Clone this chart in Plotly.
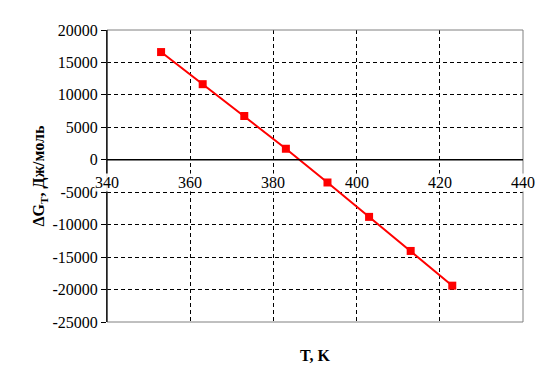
import plotly.graph_objects as go

T_K = [353, 363, 373, 383, 393, 403, 413, 423]
dG = [16600, 11650, 6750, 1700, -3500, -8800, -14050, -19400]

x_ticks = [340, 360, 380, 400, 420, 440]
y_ticks = [20000, 15000, 10000, 5000, 0, -5000, -10000, -15000, -20000, -25000]

font = "Times New Roman, Liberation Serif, serif"

fig = go.Figure()
fig.add_trace(go.Scatter(
    x=T_K, y=dG, mode="lines+markers",
    line=dict(color="#ff0000", width=2),
    marker=dict(color="#ff0000", size=8, symbol="square"),
    showlegend=False,
))

ymin, ymax = -25000, 20000
fig.update_layout(
    width=553, height=381,
    margin=dict(l=107, r=30, t=30, b=59),
    paper_bgcolor="white", plot_bgcolor="white",
    font=dict(family=font, size=16, color="black"),
    xaxis=dict(
        range=[340, 440], tickvals=x_ticks, showticklabels=False,
        showgrid=True, gridcolor="black", griddash="4px,3px", gridwidth=1,
        showline=False, zeroline=False, title=None,
    ),
    yaxis=dict(
        range=[ymin, ymax], tickvals=y_ticks, ticktext=[str(v) for v in y_ticks],
        showgrid=True, gridcolor="black", griddash="4px,3px", gridwidth=1,
        showline=True, linecolor="black", linewidth=1,
        ticks="outside", ticklen=5, tickcolor="black",
        zeroline=False,
        tickfont=dict(family=font, size=16, color="black"),
        title=dict(text="<b>ΔG<sub>T</sub>, Дж/моль</b>",
                   font=dict(family=font, size=16, color="black"), standoff=3),
    ),
)
# grey frame on top, right, bottom
fig.add_shape(type="rect", xref="paper", yref="paper", x0=0, x1=1, y0=0, y1=1,
              line=dict(color="#808080", width=1), layer="above")
# black left axis
fig.add_shape(type="line", xref="paper", yref="paper", x0=0, x1=0, y0=0, y1=1,
              line=dict(color="black", width=1), layer="above")
# x tick labels sitting under the zero line, covering the grid lines
for v in x_ticks:
    fig.add_annotation(text=str(v), x=v, y=0, xref="x", yref="y",
                       yanchor="top", yshift=-13, showarrow=False,
                       bgcolor="rgba(255,255,255,0.9)", borderpad=0,
                       font=dict(family=font, size=16, color="black"))
# zero line
fig.add_shape(type="line", xref="paper", yref="y", x0=0, x1=1, y0=0, y1=0,
              line=dict(color="black", width=1.5), layer="above")
fig.add_annotation(text="<b>T, K</b>", xref="paper", yref="paper",
                   x=0.5, y=-0.08, yanchor="top", showarrow=False,
                   font=dict(size=16, family=font, color="black"))

fig.write_html("out.html")
